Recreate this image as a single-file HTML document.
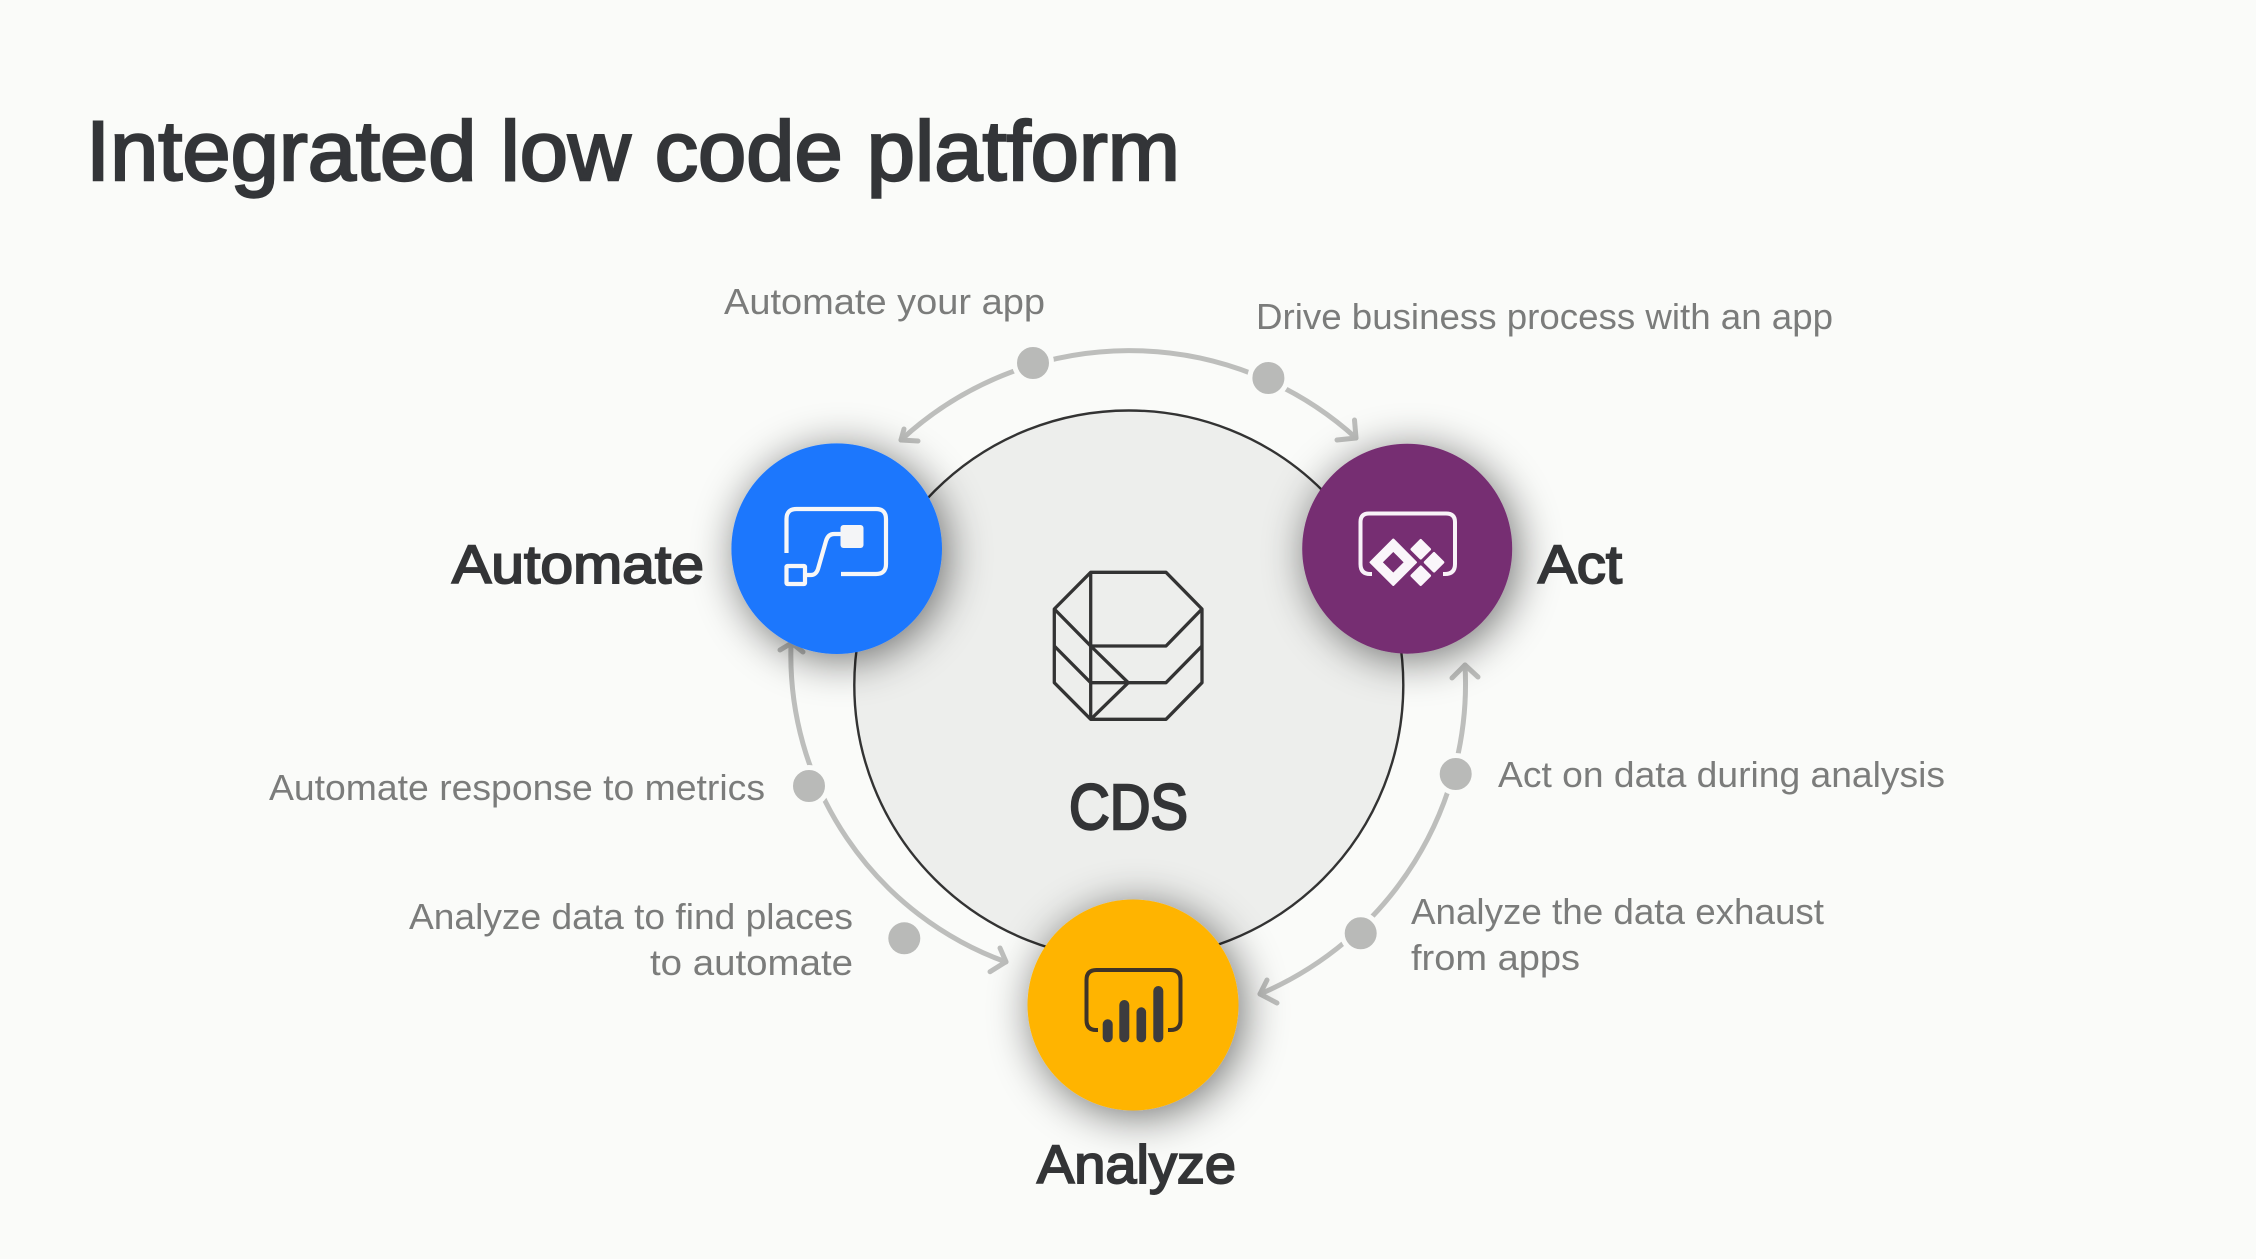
<!DOCTYPE html>
<html lang="en">
<head>
<meta charset="utf-8">
<title>Integrated low code platform</title>
<style>
html,body{margin:0;padding:0;width:2256px;height:1259px;background:#fafbf9;overflow:hidden}
svg{display:block}
text{font-family:"Liberation Sans",sans-serif}
.lab{font-size:36px;fill:#7b7c7b}
.sb{font-size:54px;fill:#333436;stroke:#333436;stroke-width:1.9px}
.arc{fill:none;stroke:#bdbebc;stroke-width:5;stroke-linecap:round;stroke-linejoin:round}
.dot{fill:#b9bab8;stroke:#fafbf9;stroke-width:5}
</style>
</head>
<body>
<svg width="2256" height="1259" viewBox="0 0 2256 1259" xmlns="http://www.w3.org/2000/svg">
<defs>
<filter id="sh" x="-70%" y="-70%" width="240%" height="240%">
<feGaussianBlur in="SourceAlpha" stdDeviation="22"/>
<feOffset dx="5" dy="6"/>
<feComponentTransfer><feFuncA type="linear" slope="0.55"/></feComponentTransfer>
<feMerge><feMergeNode/><feMergeNode in="SourceGraphic"/></feMerge>
</filter>
</defs>
<rect width="2256" height="1259" fill="#fafbf9"/>

<text x="86" y="180" font-size="84" fill="#333538" stroke="#333538" stroke-width="2.4" textLength="1094" lengthAdjust="spacingAndGlyphs">Integrated low code platform</text>

<!-- central circle -->
<circle cx="1128.8" cy="685" r="274.5" fill="#edeeec" stroke="#333" stroke-width="2.4"/>

<!-- outer arcs -->
<path class="arc" d="M901 440 A337 337 0 0 1 1356 438"/>
<path class="arc" d="M904 429 L901 440 L918 441"/>
<path class="arc" d="M1354.5 420 L1356 438 L1337 440"/>
<path class="arc" d="M1465 665 A337 337 0 0 1 1260 994"/>
<path class="arc" d="M1452 678 L1465 665 L1478 677"/>
<path class="arc" d="M1267 980 L1260 994 L1277 1003"/>
<path class="arc" d="M791 645 A326 326 0 0 0 1006 962"/>
<path class="arc" d="M780 650 L791.7 643 L803 652"/>
<path class="arc" d="M1000 948 L1006 961.7 L990 971.7"/>

<!-- dots -->
<circle class="dot" cx="1033" cy="363" r="18.5"/>
<circle class="dot" cx="1268.4" cy="378" r="18.5"/>
<circle class="dot" cx="809" cy="786" r="18.5"/>
<circle cx="904.3" cy="938.3" r="16" fill="#b9bab8"/>
<circle class="dot" cx="1455.7" cy="774" r="18.5"/>
<circle class="dot" cx="1360.7" cy="933.3" r="18.5"/>

<!-- node circles -->
<circle cx="836.7" cy="548.7" r="105.3" fill="#1e77fd" filter="url(#sh)"/>
<circle cx="1407.2" cy="548.7" r="105" fill="#762d72" filter="url(#sh)"/>
<circle cx="1133" cy="1005" r="105.5" fill="#ffb400" filter="url(#sh)"/>

<!-- flow icon -->
<g fill="none" stroke="#f7f7f7" stroke-width="4.2">
<path d="M786.5 553 V519 Q786.5 509 796.5 509 H876 Q886 509 886 519 V564 Q886 574 876 574 H841"/>
<rect x="786.5" y="566" width="18.5" height="18" rx="1"/>
<path d="M805 575 H811 Q816 575 818 569 L826 541 Q828 534 834 534 H842"/>
</g>
<rect x="840.5" y="525" width="23" height="23" rx="3" fill="#f4f5f7"/>

<!-- power apps icon -->
<path d="M1372 574 H1370 Q1360.5 574 1360.5 564 V522 Q1360.5 513.5 1369 513.5 H1446 Q1455 513.5 1455 522 V564 Q1455 574 1445 574 H1443" fill="none" stroke="#f8f2f8" stroke-width="4"/>
<path fill-rule="evenodd" fill="#faf6fa" stroke="#faf6fa" stroke-width="2" stroke-linejoin="round" d="M1393.3 539.5 L1416 562.3 L1393.3 585 L1370.5 562.3 Z M1393.3 550.5 L1381.5 562.3 L1393.3 574 L1405 562.3 Z"/>
<g fill="#faf6fa" stroke="#faf6fa" stroke-width="3" stroke-linejoin="round">
<path d="M1420.7 540.5 L1429.5 549.3 L1420.7 558 L1412 549.3 Z"/>
<path d="M1434 553.5 L1442.8 562.3 L1434 571 L1425.3 562.3 Z"/>
<path d="M1420.7 567 L1429.5 575.7 L1420.7 584.5 L1412 575.7 Z"/>
</g>

<!-- power bi icon -->
<path d="M1098 1030 H1096 Q1086.5 1030 1086.5 1020 V980 Q1086.5 970 1096.5 970 H1170.5 Q1180.5 970 1180.5 980 V1020 Q1180.5 1030 1170.5 1030 H1168" fill="none" stroke="#3f3328" stroke-width="4"/>
<g fill="#3d3c3e">
<rect x="1102.7" y="1019.3" width="10" height="23" rx="5"/>
<rect x="1119.3" y="1000" width="10" height="42.3" rx="5"/>
<rect x="1136.5" y="1007.3" width="9.6" height="35" rx="4.8"/>
<rect x="1153.3" y="986" width="10" height="56.3" rx="5"/>
</g>

<!-- CDS icon -->
<g fill="none" stroke="#333" stroke-width="3.3" stroke-linejoin="round">
<path d="M1090.7 572.3 H1166 L1202 609 V682.7 L1166 719.3 H1090.7 L1054.3 682.7 V609 Z"/>
<path d="M1090.7 572.3 V719.3"/>
<path d="M1054.3 609 L1090.7 646 H1166 L1202 609"/>
<path d="M1054.3 646 L1090.7 682.7 H1166 L1202 646"/>
<path d="M1090.7 646 L1128.3 682.7 L1090.7 719.3"/>
</g>

<!-- text -->
<text class="sb" x="1069" y="829" style="font-size:64px;stroke-width:2.4px" textLength="119" lengthAdjust="spacingAndGlyphs">CDS</text>
<text class="sb" x="452" y="583" textLength="252" lengthAdjust="spacingAndGlyphs">Automate</text>
<text class="sb" x="1538" y="583" textLength="84" lengthAdjust="spacingAndGlyphs">Act</text>
<text class="sb" x="1037" y="1183" textLength="199" lengthAdjust="spacingAndGlyphs">Analyze</text>

<text class="lab" x="724" y="314" textLength="321" lengthAdjust="spacingAndGlyphs">Automate your app</text>
<text class="lab" x="1256" y="329" textLength="577" lengthAdjust="spacingAndGlyphs">Drive business process with an app</text>
<text class="lab" x="269" y="800" textLength="496" lengthAdjust="spacingAndGlyphs">Automate response to metrics</text>
<text class="lab" x="409" y="929" textLength="444" lengthAdjust="spacingAndGlyphs">Analyze data to find places</text>
<text class="lab" x="650" y="975" textLength="203" lengthAdjust="spacingAndGlyphs">to automate</text>
<text class="lab" x="1498" y="787" textLength="447" lengthAdjust="spacingAndGlyphs">Act on data during analysis</text>
<text class="lab" x="1411" y="924" textLength="413" lengthAdjust="spacingAndGlyphs">Analyze the data exhaust</text>
<text class="lab" x="1411" y="970" textLength="169" lengthAdjust="spacingAndGlyphs">from apps</text>
</svg>
</body>
</html>
